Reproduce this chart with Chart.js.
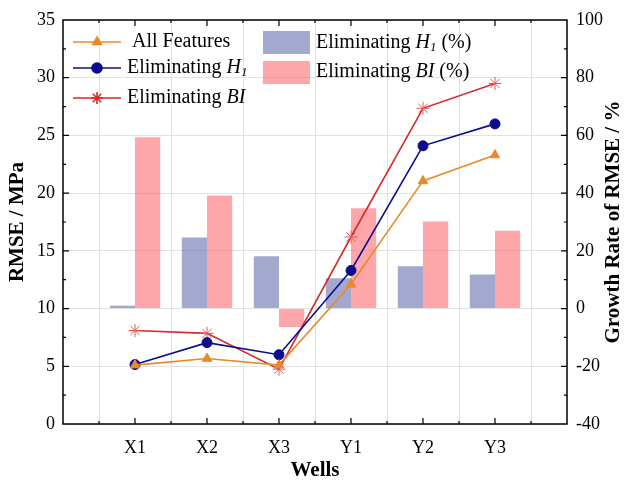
<!DOCTYPE html>
<html lang="en">
<head>
    <meta charset="UTF-8" />
    <title>RMSE by Wells</title>
    <script src="https://cdn.jsdelivr.net/npm/chart.js"></script>
    <style>
        html, body { margin: 0; padding: 0; background: #fff; }
        #wrap { width: 633px; height: 486px; }
    </style>
</head>
<body>
    <div id="wrap"><canvas id="chart" width="633" height="486"></canvas></div>

    <script>
        // data
        const wells = ['X1', 'X2', 'X3', 'Y1', 'Y2', 'Y3'];
        const allFeatures = [5.1, 5.67, 5.1, 12.1, 21.06, 23.3];
        const elimH1 = [5.15, 7.05, 6.0, 13.3, 24.1, 26.0];
        const elimBI = [8.1, 7.85, 4.75, 16.2, 27.35, 29.5];
        const growthH1 = [1.0, 24.6, 18.1, 10.5, 14.7, 11.8];
        const growthBI = [59.4, 39.2, -6.4, 34.8, 30.2, 27.0];
        const rmseTicks = [0, 5, 10, 15, 20, 25, 30, 35];
        const growthTicks = [-40, -20, 0, 20, 40, 60, 80, 100];

        // one empty slot each side so the wells sit at 1..6 on a 0..7 axis
        const pad = arr => [null, ...arr, null];
        const labels = ['', ...wells, ''];

        const SERIF = "'Liberation Serif', 'DejaVu Serif', serif";
        const ORANGE = '#e8892b';
        const NAVY = '#0c0c8c';
        const RED = '#d32a2a';
        const BAR_BLUE = 'rgba(72, 82, 160, 0.5)';
        const BAR_RED = 'rgba(255, 78, 88, 0.5)';

        // rich text helper for the italic bits
        function drawRich(ctx, x, y, parts) {
            ctx.textBaseline = 'middle';
            ctx.textAlign = 'left';
            for (const p of parts) {
                ctx.font = p.font;
                ctx.fillText(p.t, x, y + (p.dy || 0));
                x += ctx.measureText(p.t).width;
            }
        }

        const frameAndLegend = {
            id: 'frameAndLegend',
            afterDraw(chart) {
                const { ctx, chartArea: a, scales } = chart;
                const x = scales.x, y = scales.y, y1 = scales.y1;
                ctx.save();

                // frame
                ctx.strokeStyle = '#000';
                ctx.lineWidth = 1.5;
                ctx.strokeRect(a.left, a.top, a.right - a.left, a.bottom - a.top);

                // inward ticks
                ctx.lineWidth = 1.2;
                ctx.beginPath();
                for (let i = 0; i <= 14; i++) {
                    const v = i / 2;
                    if (v === 0 || v === 7) continue;
                    const px = x.getPixelForValue(0) + (x.getPixelForValue(1) - x.getPixelForValue(0)) * v;
                    const len = i % 2 === 0 ? 6 : 3;
                    ctx.moveTo(px, a.bottom); ctx.lineTo(px, a.bottom - len);
                    ctx.moveTo(px, a.top); ctx.lineTo(px, a.top + len);
                }
                for (let v = 2.5; v < 35; v += 2.5) {
                    const py = y.getPixelForValue(v);
                    const len = v % 5 === 0 ? 6 : 3;
                    ctx.moveTo(a.left, py); ctx.lineTo(a.left + len, py);
                }
                for (let v = -30; v < 100; v += 10) {
                    const py = y1.getPixelForValue(v);
                    const len = v % 20 === 0 ? 6 : 3;
                    ctx.moveTo(a.right, py); ctx.lineTo(a.right - len, py);
                }
                ctx.stroke();

                // right axis title, reading bottom to top
                ctx.save();
                ctx.translate(614, (a.top + a.bottom) / 2);
                ctx.rotate(-Math.PI / 2);
                ctx.fillStyle = '#000';
                ctx.font = 'bold 21px ' + SERIF;
                ctx.textAlign = 'center';
                ctx.textBaseline = 'middle';
                ctx.fillText('Growth Rate of RMSE / %', 0, 0);
                ctx.restore();

                // legend, lines column
                const reg = '20px ' + SERIF;
                const ita = 'italic 20px ' + SERIF;
                const sub = 'italic 13px ' + SERIF;
                const rows = [
                    { yy: 42, col: ORANGE, style: 'triangle', tx: 132, parts: [{ t: 'All Features', font: reg }] },
                    { yy: 68, col: NAVY, style: 'circle', tx: 127, parts: [{ t: 'Eliminating ', font: reg }, { t: 'H', font: ita }, { t: '1', font: sub, dy: 5 }] },
                    { yy: 98, col: RED, style: 'star', tx: 127, parts: [{ t: 'Eliminating ', font: reg }, { t: 'BI', font: ita }] }
                ];
                for (const r of rows) {
                    ctx.strokeStyle = r.col;
                    ctx.fillStyle = r.col;
                    ctx.lineWidth = 1.6;
                    ctx.beginPath();
                    ctx.moveTo(73, r.yy); ctx.lineTo(121, r.yy);
                    ctx.stroke();
                    Chart.helpers.drawPoint(ctx, { pointStyle: r.style, radius: r.style === 'star' ? 6 : 5, rotation: 0, borderWidth: 1 }, 97, r.yy);
                    ctx.fillStyle = '#000';
                    drawRich(ctx, r.tx, r.yy, r.parts);
                }

                // legend, bars column
                const boxes = [
                    { top: 31, col: BAR_BLUE, yy: 43, parts: [{ t: 'Eliminating ', font: reg }, { t: 'H', font: ita }, { t: '1', font: sub, dy: 5 }, { t: ' (%)', font: reg }] },
                    { top: 61, col: BAR_RED, yy: 72, parts: [{ t: 'Eliminating ', font: reg }, { t: 'BI', font: ita }, { t: ' (%)', font: reg }] }
                ];
                for (const b of boxes) {
                    ctx.fillStyle = b.col;
                    ctx.fillRect(263, b.top, 47, 23);
                    ctx.fillStyle = '#000';
                    drawRich(ctx, 316, b.yy, b.parts);
                }
                ctx.restore();
            }
        };

        const ctx = document.getElementById('chart').getContext('2d');
        const chart = new Chart(ctx, {
            type: 'bar',
            data: {
                labels: labels,
                datasets: [
                    {
                        type: 'line', label: 'All Features', data: pad(allFeatures), yAxisID: 'y', order: 0,
                        borderColor: ORANGE, backgroundColor: ORANGE, borderWidth: 1.6,
                        pointStyle: 'triangle', pointRadius: 5.5, pointBorderWidth: 1
                    },
                    {
                        type: 'line', label: 'Eliminating H1', data: pad(elimH1), yAxisID: 'y', order: 0,
                        borderColor: NAVY, backgroundColor: NAVY, borderWidth: 1.6,
                        pointStyle: 'circle', pointRadius: 5, pointBorderWidth: 1
                    },
                    {
                        type: 'line', label: 'Eliminating BI', data: pad(elimBI), yAxisID: 'y', order: 0,
                        borderColor: RED, backgroundColor: RED, borderWidth: 1.6,
                        pointStyle: 'star', pointRadius: 6.5, pointBorderWidth: 1, pointBorderColor: '#e25858'
                    },
                    {
                        label: 'Eliminating H1 (%)', data: pad(growthH1), yAxisID: 'y1', order: 1,
                        backgroundColor: BAR_BLUE, borderWidth: 0,
                        categoryPercentage: 0.7, barPercentage: 1.0
                    },
                    {
                        label: 'Eliminating BI (%)', data: pad(growthBI), yAxisID: 'y1', order: 1,
                        backgroundColor: BAR_RED, borderWidth: 0,
                        categoryPercentage: 0.7, barPercentage: 1.0
                    }
                ]
            },
            options: {
                responsive: false,
                animation: false,
                layout: { padding: { top: 20, left: 0, right: 0, bottom: 0 } },
                plugins: { legend: { display: false }, tooltip: { enabled: false } },
                scales: {
                    x: {
                        type: 'category',
                        offset: false,
                        grid: { color: '#e2e2e2', drawTicks: false },
                        border: { display: false },
                        ticks: { color: '#000', font: { family: SERIF, size: 18 }, padding: 13, maxRotation: 0, autoSkip: false },
                        title: { display: true, text: 'Wells', color: '#000', font: { family: SERIF, size: 21, weight: 'bold' }, padding: { top: 0, bottom: 3 } },
                        afterFit: s => { s.height = 62; }
                    },
                    y: {
                        position: 'left',
                        min: 0, max: 35,
                        afterBuildTicks: s => { s.ticks = rmseTicks.map(v => ({ value: v })); },
                        grid: { color: '#e2e2e2', drawTicks: false },
                        border: { display: false },
                        ticks: { color: '#000', font: { family: SERIF, size: 18 }, padding: 8 },
                        title: { display: true, text: 'RMSE / MPa', color: '#000', font: { family: SERIF, size: 21, weight: 'bold' }, padding: { top: 5, bottom: 0 } },
                        afterFit: s => { s.width = 63; }
                    },
                    y1: {
                        position: 'right',
                        min: -40, max: 100,
                        afterBuildTicks: s => { s.ticks = growthTicks.map(v => ({ value: v })); },
                        grid: { drawOnChartArea: false, drawTicks: false },
                        border: { display: false },
                        ticks: { color: '#000', font: { family: SERIF, size: 18 }, padding: 9 },
                        afterFit: s => { s.width = 66; }
                    }
                }
            },
            plugins: [frameAndLegend]
        });
    </script>
</body>
</html>
